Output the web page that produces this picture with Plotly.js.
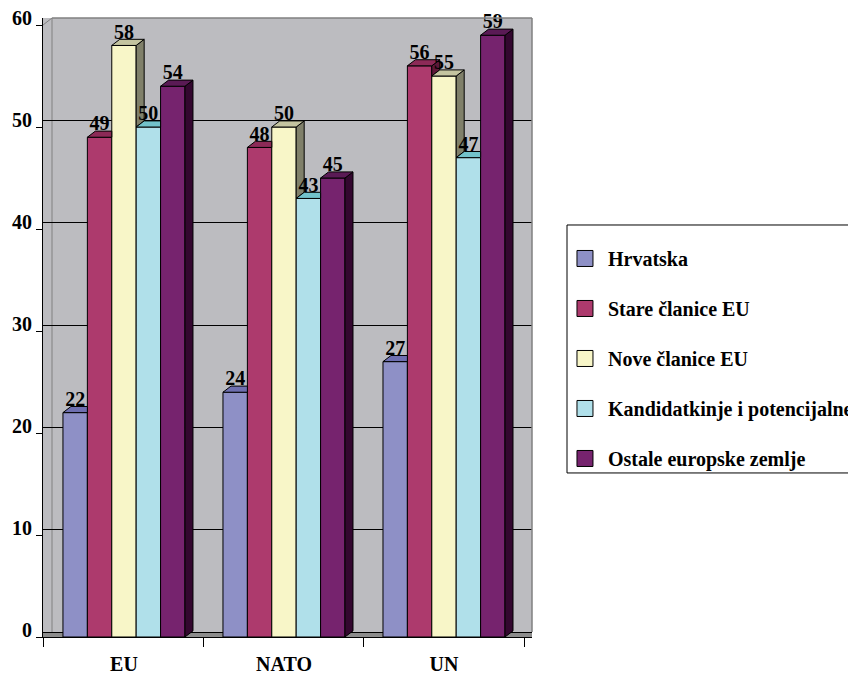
<!DOCTYPE html>
<html>
<head>
<meta charset="utf-8">
<script src="https://cdn.plot.ly/plotly-3.0.1.min.js"></script>
<style>html,body{margin:0;padding:0;background:#fff;}#chart{width:848px;height:675px;}</style>
</head>
<body>
<div id="chart"></div>
<script>
// ---- data ----
const categories = ['EU', 'NATO', 'UN'];
const seriesNames = ['Hrvatska', 'Stare članice EU', 'Nove članice EU', 'Kandidatkinje i potencijalne', 'Ostale europske zemlje'];
const hrvatska = [22, 24, 27];
const stareClanice = [49, 48, 56];
const noveClanice = [58, 50, 55];
const kandidatkinje = [50, 43, 47];
const ostale = [54, 45, 59];
const yTicks = [0, 10, 20, 30, 40, 50, 60];

// ---- styling ----
const series = [hrvatska, stareClanice, noveClanice, kandidatkinje, ostale];
const frontColors = ['#8E90C6', '#AD3A6D', '#F8F6C8', '#B0E0EA', '#76236E'];
const topColors   = ['#6E6FB0', '#8C2A57', '#C4C4A0', '#72C2CA', '#5A1A55'];
const sideColors  = ['#4E4F86', '#5E1838', '#80806A', '#4F8E96', '#33072F'];
const FONT = '"Liberation Serif", "Times New Roman", Times, serif';
const nS = series.length;
const bargap = 0.2375;
const bw = (1 - bargap) / nS;   // bar width in x units
const dx = 0.05;                // depth offset in x units (~8px)
const dy = 0.6;                 // depth offset in y units (~6px)

const catIdx = categories.map((c, i) => i);
const traces = [];

// front faces (bars)
series.forEach((vals, s) => {
  traces.push({
    type: 'bar', name: seriesNames[s], x: catIdx, y: vals,
    marker: { color: frontColors[s], line: { color: '#000', width: 1 } },
    hoverinfo: 'skip', showlegend: false
  });
});

// top and side faces (computed from the same values)
series.forEach((vals, s) => {
  const tx = [], ty = [], sx = [], sy = [];
  catIdx.forEach(c => {
    const xc = c + (s - (nS - 1) / 2) * bw;
    const xl = xc - bw / 2, xr = xc + bw / 2;
    const v = vals[c];
    const vn = s < nS - 1 ? series[s + 1][c] : 0;
    if (vn > v) {
      tx.push(xl, xl + dx, xr, xr, xl, null);
      ty.push(v, v + dy, v + dy, v, v, null);
    } else {
      tx.push(xl, xl + dx, xr + dx, xr, xl, null);
      ty.push(v, v + dy, v + dy, v, v, null);
    }
    if (v > vn) {
      sx.push(xr, xr, xr + dx, xr + dx, xr, null);
      sy.push(vn, v, v + dy, vn + dy, vn, null);
    }
  });
  traces.push({ type: 'scatter', mode: 'lines', x: sx, y: sy, fill: 'toself', fillcolor: sideColors[s],
    line: { color: '#000', width: 1 }, showlegend: false, hoverinfo: 'skip' });
  traces.push({ type: 'scatter', mode: 'lines', x: tx, y: ty, fill: 'toself', fillcolor: topColors[s],
    line: { color: '#000', width: 1 }, showlegend: false, hoverinfo: 'skip' });
});

// value labels
series.forEach((vals, s) => {
  traces.push({
    type: 'scatter', mode: 'text',
    x: catIdx.map(c => c + (s - (nS - 1) / 2) * bw),
    y: vals.map(v => v + dy * 0.3),
    text: vals.map(String), textposition: 'top center',
    textfont: { family: FONT, size: 20, color: '#000', weight: 700 },
    showlegend: false, hoverinfo: 'skip', cliponaxis: false
  });
});

// legend entries (square swatches)
series.forEach((vals, s) => {
  traces.push({
    type: 'scatter', mode: 'markers', name: seriesNames[s], x: [null], y: [null],
    marker: { symbol: 'square', size: 16, color: frontColors[s], line: { color: '#000', width: 1 } },
    legendgroup: 'g' + s, hoverinfo: 'skip'
  });
});

// invisible trace to hold the overlaid axes
traces.push({ type: 'scatter', x: [null], y: [null], xaxis: 'x2', yaxis: 'y2', showlegend: false, hoverinfo: 'skip' });

const xRange = [-0.506, 2.55];
const layout = {
  width: 848, height: 675,
  margin: { l: 43, r: 316, t: 18, b: 38, autoexpand: false },
  paper_bgcolor: '#FFFFFF',
  plot_bgcolor: '#BCBCC0',
  barmode: 'group', bargap: bargap, bargroupgap: 0,
  showlegend: true,
  legend: {
    x: 1.0613, y: 0.643, xanchor: 'left', yanchor: 'top',
    borderwidth: 0, bgcolor: 'rgba(0,0,0,0)',
    font: { family: FONT, size: 20, color: '#000', weight: 700 },
    traceorder: 'grouped', tracegroupgap: 21, itemwidth: 36
  },
  xaxis: {
    range: xRange, tickvals: [-0.5, 0.5, 1.5, 2.5], showticklabels: false,
    ticks: 'outside', ticklen: 9, tickcolor: '#000', tickwidth: 1,
    showline: true, linecolor: '#000', linewidth: 1, showgrid: false, zeroline: false, fixedrange: true
  },
  xaxis2: {
    overlaying: 'x', range: xRange, tickvals: catIdx, ticktext: categories,
    ticks: '', showline: false, showgrid: false, zeroline: false, side: 'bottom',
    ticklabelstandoff: 13,
    tickfont: { family: FONT, size: 20, color: '#000', weight: 700 }, fixedrange: true
  },
  yaxis: {
    range: [0, 60.69], tickvals: yTicks, ticks: 'outside', ticklen: 6, tickcolor: '#000',
    showline: true, linecolor: '#000', linewidth: 1, showgrid: false, zeroline: false,
    ticklabelshift: -7,
    tickfont: { family: FONT, size: 20, color: '#000', weight: 700 }, fixedrange: true
  },
  yaxis2: {
    overlaying: 'y', range: [-0.489, 60], tickvals: yTicks, showticklabels: false, ticks: '',
    showgrid: true, gridcolor: '#000', gridwidth: 1, zeroline: false, showline: false, fixedrange: true
  },
  shapes: [
    { type: 'rect', xref: 'paper', yref: 'paper', x0: 0, x1: 1, y0: 0, y1: 5 / 619,
      fillcolor: '#8C8C8C', line: { width: 0 }, layer: 'below' },
    { type: 'line', xref: 'paper', yref: 'paper', x0: 9 / 489, x1: 1, y0: 1, y1: 1, line: { color: '#808080', width: 1.5 } },
    { type: 'line', xref: 'paper', yref: 'paper', x0: 1, x1: 1, y0: 5 / 619, y1: 1, line: { color: '#808080', width: 1.5 } },
    { type: 'line', xref: 'paper', yref: 'paper', x0: 9 / 489, x1: 9 / 489, y0: 5 / 619, y1: 1, line: { color: '#808080', width: 1 }, layer: 'below' },
    { type: 'line', xref: 'paper', yref: 'paper', x0: 0, x1: 9 / 489, y0: 1 - 7 / 619, y1: 1, line: { color: '#808080', width: 1 } },
    // legend frame
    { type: 'rect', xref: 'paper', yref: 'paper', x0: 1.0716, x1: 1.7, y0: 0.265, y1: 0.6656,
      line: { color: '#000', width: 1 }, fillcolor: 'rgba(0,0,0,0)' }
  ]
};

Plotly.newPlot('chart', traces, layout, { displayModeBar: false, staticPlot: true });
</script>
</body>
</html>
